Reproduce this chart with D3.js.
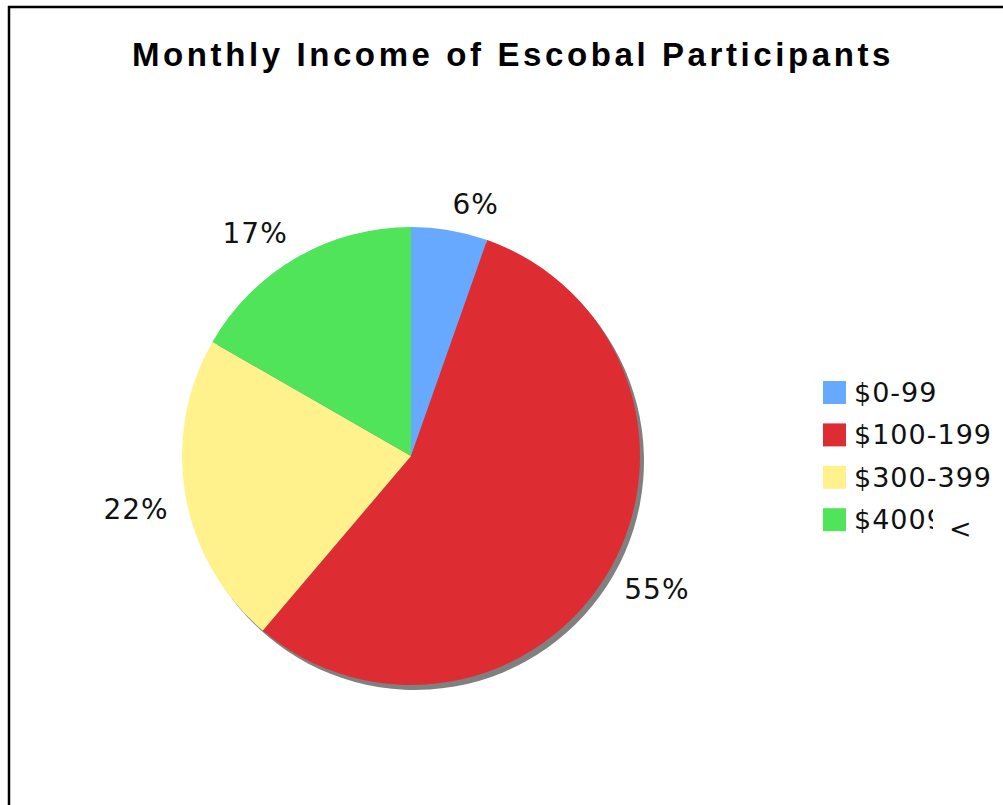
<!DOCTYPE html>
<html>
<head>
<meta charset="utf-8">
<script src="https://cdn.jsdelivr.net/npm/d3@7"></script>
<style>
  html, body { margin: 0; padding: 0; background: #fff; overflow: hidden; }
  svg { display: block; }
</style>
</head>
<body>
<div id="chart"></div>
<script>
// chart data
var categories = ['$0-99', '$100-199', '$300-399', '$4009'];
var shares = [5.4, 55.8, 22.1, 16.7];       // slice sizes
var labels = ['6%', '55%', '22%', '17%'];   // printed labels
var colors = ['#66A9FF', '#DE2C33', '#FFF28C', '#50E45A'];
var title = 'Monthly Income of Escobal Participants';

var width = 1003, height = 805;
var cx = 411, cy = 456, radius = 229;
var labelFont = '"DejaVu Sans", Verdana, sans-serif';

var svg = d3.select('#chart').append('svg')
    .attr('width', width)
    .attr('height', height);

// frame, runs off the right and bottom edge
svg.append('rect')
    .attr('x', 9).attr('y', 7)
    .attr('width', 1200).attr('height', 1200)
    .attr('fill', 'none')
    .attr('stroke', '#000')
    .attr('stroke-width', 2.5);

svg.append('text')
    .attr('x', 513).attr('y', 66)
    .attr('text-anchor', 'middle')
    .style('font-family', '"Liberation Sans", Arial, sans-serif')
    .style('font-weight', 'bold')
    .style('font-size', '33px')
    .style('letter-spacing', '3.6px')
    .text(title);

var pie = d3.pie().sort(null).value(d => d)(shares);
var arc = d3.arc().innerRadius(0).outerRadius(radius);

// drop shadow
svg.append('g')
    .attr('transform', `translate(${cx + 4} ${cy + 5})`)
    .selectAll('path')
    .data(pie)
    .enter()
    .append('path')
    .attr('d', arc)
    .attr('fill', '#808080');

var slices = svg.append('g')
    .attr('transform', `translate(${cx} ${cy})`);

slices.selectAll('path')
    .data(pie)
    .enter()
    .append('path')
    .attr('d', arc)
    .attr('fill', (d, i) => colors[i]);

// labels: the corner nearest the pie sits on the mid angle, a bit outside the rim
var labelR = 246, capH = 20.5;
slices.selectAll('text')
    .data(pie)
    .enter()
    .append('text')
    .each(function(d, i) {
        var a = (d.startAngle + d.endAngle) / 2,
            sx = Math.sin(a), sy = -Math.cos(a);
        d3.select(this)
            .attr('x', sx * labelR)
            .attr('y', sy * labelR + (sy > 0 ? capH : 0))
            .attr('text-anchor', sx >= 0 ? 'start' : 'end');
    })
    .style('font-family', labelFont)
    .style('font-size', '28px')
    .style('letter-spacing', '1px')
    .style('fill', '#111')
    .text((d, i) => labels[i]);

// legend
svg.append('clipPath')
    .attr('id', 'legclip')
    .append('rect')
    .attr('x', -10).attr('y', -30)
    .attr('width', 120).attr('height', 80);

var legend = svg.append('g');

var rows = legend.selectAll('g')
    .data(categories)
    .enter()
    .append('g')
    .attr('transform', (d, i) => `translate(823 ${381 + i * 42.4})`);

rows.append('rect')
    .attr('width', 23).attr('height', 23)
    .attr('fill', (d, i) => colors[i]);

rows.append('text')
    .attr('x', 31).attr('y', 21)
    .attr('clip-path', (d, i) => i === categories.length - 1 ? 'url(#legclip)' : null)
    .style('font-family', labelFont)
    .style('font-size', '27px')
    .style('letter-spacing', '1px')
    .style('fill', '#111')
    .text(d => d);

legend.append('text')
    .attr('x', 949).attr('y', 538)
    .style('font-family', labelFont)
    .style('font-size', '27px')
    .style('fill', '#111')
    .text('<');
</script>
</body>
</html>
